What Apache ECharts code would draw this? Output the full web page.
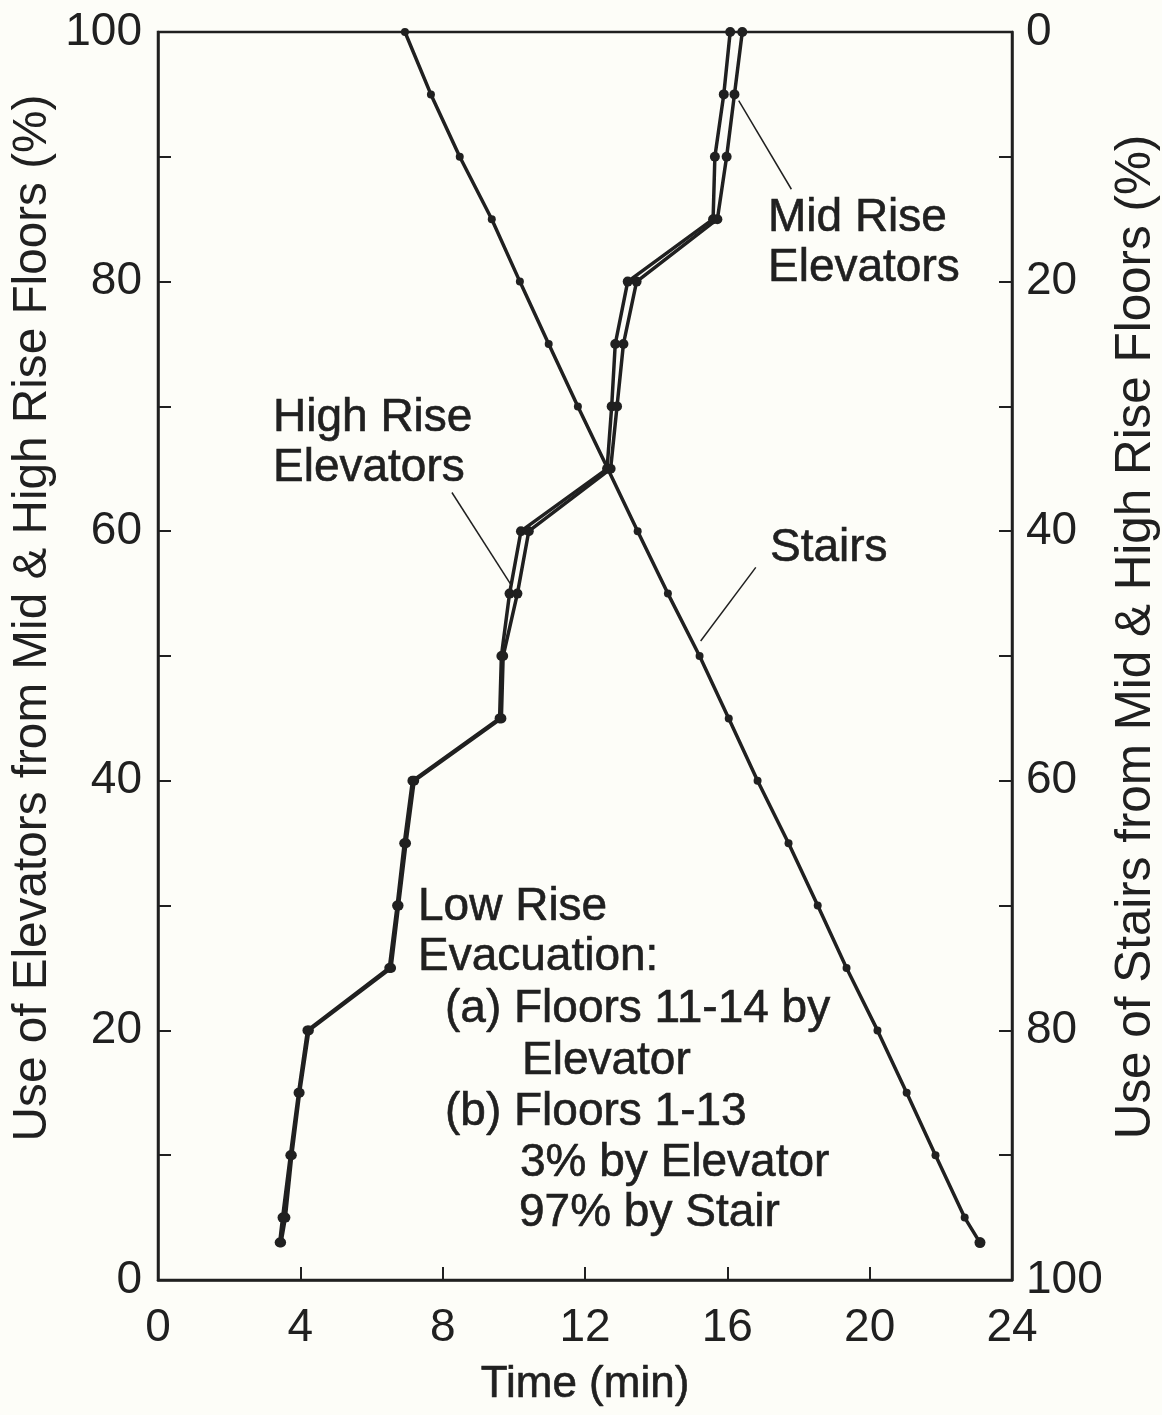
<!DOCTYPE html>
<html>
<head>
<meta charset="utf-8">
<script src="https://cdn.jsdelivr.net/npm/echarts@6/dist/echarts.min.js"></script>
<style>
  html, body { margin: 0; padding: 0; background: #fdfdf8; }
  #chart { width: 1162px; height: 1415px; }
</style>
</head>
<body>
<div id="chart"></div>
<script>
// elevator use (%) at each plotted point, left axis
const elevPct = [3, 5, 10, 15, 20, 25, 30, 35, 40, 45, 50, 55, 60, 65, 70, 75, 80, 85, 90, 95, 100]
// time (min) for low rise case (a) and case (b)
const elevTimeA = [3.42, 3.5, 3.72, 3.95, 4.2, 6.5, 6.72, 6.92, 7.15, 9.6, 9.65, 9.88, 10.2, 12.62, 12.75, 12.85, 13.2, 15.6, 15.65, 15.9, 16.08]
const elevTimeB = [3.46, 3.58, 3.76, 3.98, 4.24, 6.55, 6.76, 6.97, 7.2, 9.65, 9.7, 10.1, 10.42, 12.72, 12.9, 13.08, 13.45, 15.72, 15.98, 16.2, 16.42]

// stair use (%), right axis (inverted)
const stairPct = [0, 5, 10, 15, 20, 25, 30, 35, 40, 45, 50, 55, 60, 65, 70, 75, 80, 85, 90, 95, 97]
const stairTime = [6.94, 7.67, 8.48, 9.38, 10.17, 10.98, 11.8, 12.64, 13.48, 14.33, 15.22, 16.04, 16.85, 17.72, 18.54, 19.35, 20.22, 21.04, 21.85, 22.67, 23.1]

const ink = '#202020'
const font = '"Liberation Sans", Arial, Helvetica, sans-serif'

const pairs = (xs, ys) => xs.map((x, i) => [x, ys[i]])

const chart = echarts.init(document.getElementById('chart'))

const axisBase = {
  axisLine: { show: true, lineStyle: { color: ink, width: 2.5 } },
  axisTick: { show: true, inside: true, length: 13, lineStyle: { color: ink, width: 2 } },
  splitLine: { show: false },
  axisLabel: { color: ink, fontSize: 46, fontFamily: font }
}

const lineSeries = (data, yAxisIndex, size, width) => ({
  type: 'line',
  data: data,
  yAxisIndex: yAxisIndex,
  symbol: 'circle',
  symbolSize: size,
  lineStyle: { color: ink, width: width },
  itemStyle: { color: ink },
  z: 3
})

const label = (text, x, y) => ({
  type: 'text',
  x: x,
  y: y,
  style: { text: text, fill: ink, fontSize: 46, fontFamily: font, verticalAlign: 'middle', stroke: ink, lineWidth: 0.6 }
})

const elevA = lineSeries(pairs(elevTimeA, elevPct), 0, 10, 3.5)
elevA.markLine = {
  silent: true,
  symbol: 'none',
  label: { show: false },
  lineStyle: { color: ink, width: 1.5, type: 'solid' },
  data: [
    [{ coord: [16.32, 94.5] }, { coord: [17.8, 87.4] }],
    [{ coord: [8.26, 63.1] }, { coord: [9.9, 55.8] }],
    [{ coord: [15.25, 51.2] }, { coord: [16.8, 57.1] }]
  ]
}

const stairs = lineSeries(pairs(stairTime, stairPct), 1, 8, 3.5)
stairs.data[stairs.data.length - 1] = { value: stairs.data[stairs.data.length - 1], symbolSize: 11 }

chart.setOption({
  animation: false,
  backgroundColor: '#fdfdf8',
  grid: { left: 158, right: 150, top: 32, bottom: 135, show: true, borderColor: ink, borderWidth: 2.5, backgroundColor: 'transparent' },
  xAxis: Object.assign({}, axisBase, {
    type: 'value', min: 0, max: 24, interval: 4,
    axisLabel: Object.assign({}, axisBase.axisLabel, { margin: 25 })
  }),
  yAxis: [
    Object.assign({}, axisBase, {
      type: 'value', position: 'left', min: 0, max: 100, interval: 10,
      axisLabel: Object.assign({}, axisBase.axisLabel, { margin: 16, formatter: v => (v % 20 === 0 ? v : '') })
    }),
    Object.assign({}, axisBase, {
      type: 'value', position: 'right', min: 0, max: 100, interval: 10, inverse: true,
      axisLabel: Object.assign({}, axisBase.axisLabel, { margin: 14, formatter: v => (v % 20 === 0 ? v : '') })
    })
  ],
  series: [
    elevA,
    lineSeries(pairs(elevTimeB, elevPct), 0, 10, 3.5),
    stairs
  ],
  graphic: [
    label('Mid Rise', 768, 218),
    label('Elevators', 768, 268),
    label('High Rise', 273, 418),
    label('Elevators', 273, 468),
    label('Stairs', 770, 548),
    label('Low Rise', 418, 907),
    label('Evacuation:', 418, 957),
    label('(a) Floors 11-14 by', 445, 1009),
    label('Elevator', 522, 1061),
    label('(b) Floors 1-13', 445, 1112),
    label('3% by Elevator', 520, 1163),
    label('97% by Stair', 519, 1213),
    {
      type: 'text', x: 585, y: 1385,
      style: { text: 'Time (min)', fill: ink, fontSize: 44, fontFamily: font, align: 'center', verticalAlign: 'middle', stroke: ink, lineWidth: 0.6 }
    },
    {
      type: 'text', x: 33, y: 618, rotation: Math.PI / 2,
      style: { text: 'Use of Elevators from Mid & High Rise Floors (%)', fill: ink, fontSize: 47.7, fontFamily: font, align: 'center', verticalAlign: 'middle' }
    },
    {
      type: 'text', x: 1136, y: 637, rotation: Math.PI / 2,
      style: { text: 'Use of Stairs from Mid & High Rise Floors (%)', fill: ink, fontSize: 49.4, fontFamily: font, align: 'center', verticalAlign: 'middle' }
    }
  ]
})
</script>
</body>
</html>
